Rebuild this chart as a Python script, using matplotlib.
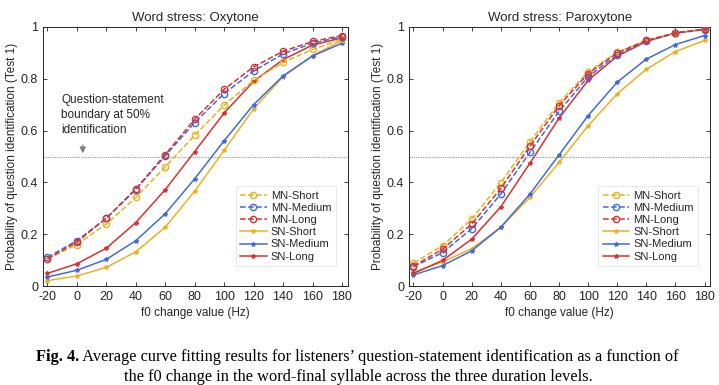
import numpy as np
import matplotlib.pyplot as plt

plt.rcParams["font.family"] = ["Liberation Sans", "DejaVu Sans"]
plt.rcParams["axes.unicode_minus"] = False

f0 = [-20, 0, 20, 40, 60, 80, 100, 120, 140, 160, 180]

# Oxytone
oxy_mn_short = [0.105, 0.160, 0.239, 0.342, 0.460, 0.582, 0.698, 0.794, 0.863, 0.913, 0.952]
oxy_mn_medium = [0.111, 0.175, 0.262, 0.372, 0.503, 0.631, 0.743, 0.830, 0.896, 0.937, 0.963]
oxy_mn_long = [0.105, 0.170, 0.262, 0.375, 0.507, 0.644, 0.759, 0.846, 0.906, 0.944, 0.967]
oxy_sn_short = [0.021, 0.039, 0.072, 0.132, 0.227, 0.366, 0.524, 0.684, 0.808, 0.889, 0.948]
oxy_sn_medium = [0.035, 0.061, 0.103, 0.175, 0.279, 0.414, 0.561, 0.700, 0.811, 0.888, 0.937]
oxy_sn_long = [0.049, 0.086, 0.146, 0.245, 0.372, 0.519, 0.668, 0.790, 0.874, 0.930, 0.958]

# Paroxytone
par_mn_short = [0.088, 0.156, 0.259, 0.399, 0.557, 0.707, 0.827, 0.902, 0.948, 0.977, 0.991]
par_mn_medium = [0.075, 0.129, 0.221, 0.355, 0.516, 0.674, 0.808, 0.892, 0.946, 0.976, 0.990]
par_mn_long = [0.077, 0.142, 0.239, 0.377, 0.540, 0.696, 0.820, 0.900, 0.948, 0.977, 0.991]
par_sn_short = [0.053, 0.093, 0.144, 0.227, 0.342, 0.477, 0.619, 0.742, 0.837, 0.905, 0.948]
par_sn_medium = [0.043, 0.079, 0.136, 0.227, 0.355, 0.506, 0.658, 0.787, 0.876, 0.932, 0.967]
par_sn_long = [0.049, 0.099, 0.181, 0.306, 0.474, 0.648, 0.794, 0.887, 0.944, 0.977, 0.991]

labels = ["MN-Short", "MN-Medium", "MN-Long", "SN-Short", "SN-Medium", "SN-Long"]
colors = ["#edb120", "#4169e1", "#d9312f"]

fig = plt.figure(figsize=(7.19, 3.85), dpi=100)
ax1 = fig.add_axes([0.0598, 0.257, 0.424, 0.673])
ax2 = fig.add_axes([0.569, 0.257, 0.419, 0.673])

panels = [
    (ax1, "Word stress: Oxytone",
     [oxy_mn_short, oxy_mn_medium, oxy_mn_long, oxy_sn_short, oxy_sn_medium, oxy_sn_long]),
    (ax2, "Word stress: Paroxytone",
     [par_mn_short, par_mn_medium, par_mn_long, par_sn_short, par_sn_medium, par_sn_long]),
]

for ax, title, series in panels:
    ax.axhline(0.5, color="#999999", lw=0.8, ls=(0, (1, 1)), zorder=1)
    for i, (vals, lab) in enumerate(zip(series, labels)):
        c = colors[i % 3]
        if i < 3:
            ax.plot(f0, vals, ls="--", color=c, lw=1.1, marker="o", ms=4.5,
                    mfc="none", mew=1.0, label=lab, zorder=3)
        else:
            ax.plot(f0, vals, ls="-", color=c, lw=1.1, marker="*", ms=3,
                    label=lab, zorder=2)
    ax.set_xlim(-23, 184)
    ax.set_ylim(0, 1)
    ax.set_xticks(f0)
    ax.set_yticks([0, 0.2, 0.4, 0.6, 0.8, 1])
    ax.set_yticklabels(["0", "0.2", "0.4", "0.6", "0.8", "1"])
    ax.tick_params(direction="in", top=True, right=True, labelsize=9,
                   colors="#262626", length=3, width=0.6)
    for s in ax.spines.values():
        s.set_color("#262626")
        s.set_linewidth(0.7)
    ax.set_title(title, fontsize=9.5, color="#262626", pad=4)
    ax.set_xlabel("f0 change value (Hz)", fontsize=8.5, color="#262626", labelpad=3)
    ax.set_ylabel("Probability of question identification (Test 1)", fontsize=8.5,
                  color="#262626", labelpad=2)
    leg = ax.legend(loc="lower right", bbox_to_anchor=(0.96, 0.077), fontsize=8,
                    handlelength=2.4, handletextpad=0.35, labelspacing=0.2,
                    borderpad=0.4, borderaxespad=0, frameon=True, fancybox=False)
    leg.get_frame().set_edgecolor("#dddddd")
    leg.get_frame().set_linewidth(0.6)
    for t in leg.get_texts():
        t.set_color("#262626")

ax1.text(-10.5, 0.74, "Question-statement\nboundary at 50%\nidentification",
         fontsize=8.5, color="#262626", va="top", ha="left", linespacing=1.3)
ax1.annotate("", xy=(4, 0.512), xytext=(4, 0.545),
             arrowprops=dict(arrowstyle="-|>", color="#7f7f7f", lw=0.9,
                             mutation_scale=9, shrinkA=0, shrinkB=0))

# caption
serif = ["Liberation Serif", "DejaVu Serif"]
cap1 = " Average curve fitting results for listeners\u2019 question-statement identification as a function of"
cap2 = "the f0 change in the word-final syllable across the three duration levels."
renderer = fig.canvas.get_renderer()
tb = fig.text(0, 0, "Fig. 4.", fontsize=11.8, family=serif, weight="bold")
tr = fig.text(0, 0, cap1, fontsize=11.8, family=serif)
wb = tb.get_window_extent(renderer).width
wr = tr.get_window_extent(renderer).width
W = fig.bbox.width
x0 = 357 - (wb + wr) / 2
tb.set_position((x0 / W, 1 - 357 / 385))
tb.set_va("center")
tr.set_position(((x0 + wb) / W, 1 - 357 / 385))
tr.set_va("center")
fig.text(358 / W, 1 - 377 / 385, cap2, fontsize=11.8, family=serif,
         ha="center", va="center")

fig.savefig("out.png", dpi=100)
